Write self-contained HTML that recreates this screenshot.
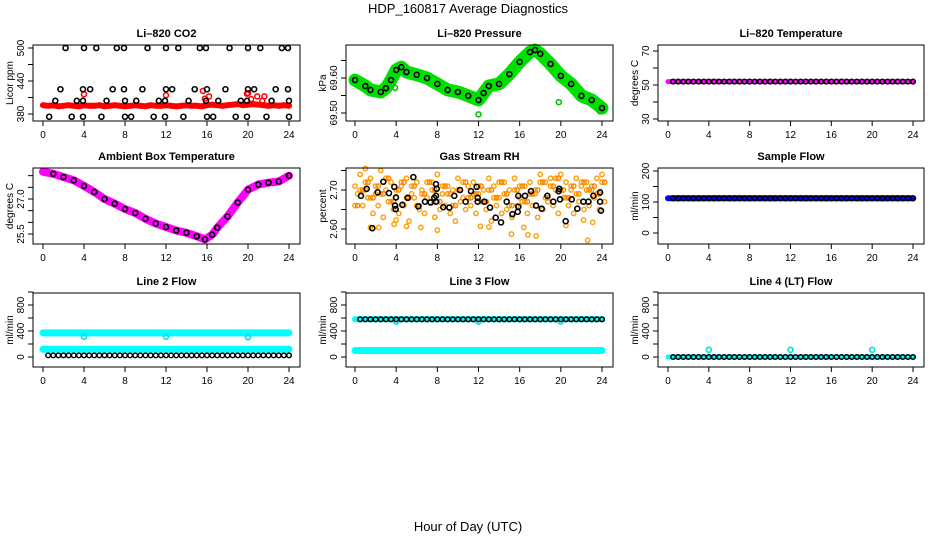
<!DOCTYPE html>
<html><head><meta charset="utf-8"><style>
html,body{margin:0;padding:0;background:#fff;}
svg{display:block;font-family:"Liberation Sans",sans-serif;}
</style></head><body>
<svg id="c" width="936" height="540" viewBox="0 0 936 540">
<text x="468" y="13" font-size="13" text-anchor="middle">HDP_160817  Average Diagnostics</text>
<text x="468" y="531" font-size="13" text-anchor="middle">Hour of Day (UTC)</text>
</svg>
<script>
// ---- data ----
const xTicks = [0,4,8,12,16,20,24];
const H = []; for (let i=0;i<=48;i++) H.push(i*0.5);

const co2Red = [396,395,396,394,395,396,395,394,396,395,395,396,394,395,396,395,394,395,396,395,394,396,395,395,396,395,394,395,396,395,395,394,396,397,396,395,396,397,398,396,397,398,397,396,395,396,395,396,395];
const co2RedOutH = [4.0,12.0,15.6,15.8,16.2,19.9,20.0,20.3,20.9,21.4,21.6];
const co2RedOutV = [416,414,422,408,412,417,418,407,412,404,412];
const co2BlackH = [2.2,4.0,5.2,7.2,7.9,10.2,12.0,13.2,15.3,15.9,18.2,20.0,21.2,23.3,23.9, 1.7,3.9,4.6,6.8,7.9,9.7,12.0,12.6,14.8,16.0,17.8,20.0,20.6,22.7,23.9, 1.2,3.3,3.9,6.2,8.0,9.1,11.3,11.9,14.2,15.9,17.1,19.3,19.9,22.3,24.0, 0.6,2.8,3.9,5.7,8.0,8.6,10.8,11.9,13.7,16.0,16.6,18.8,19.9,21.8,24.0];
const co2BlackV = [500,500,500,500,500,500,500,500,500,500,500,500,500,500,500, 425,425,425,425,425,425,425,425,425,425,425,425,425,425,425, 404,404,404,404,404,404,404,404,404,404,404,404,404,404,404, 375,375,375,375,375,375,375,375,375,375,375,375,375,375,375];

const presHours = [0,1,1.5,2.5,3,3.5,4,4.5,5,6,7,8,9,10,11,12,12.5,13,14,15,16,17,17.5,18,19,20,21,22,23,24];
const presVals = [69.594,69.577,69.566,69.560,69.571,69.594,69.623,69.631,69.617,69.609,69.600,69.583,69.566,69.560,69.549,69.537,69.557,69.577,69.583,69.611,69.646,69.674,69.680,69.669,69.640,69.606,69.583,69.549,69.537,69.514];
const presOutH = [3.9,12.0,19.8,23.8];
const presOutV = [69.572,69.496,69.531,69.505];

const tempVals = [52,52,52,52,52,52,52,52,52,52,52,52,52,52,52,52,52,52,52,52,52,52,52,52,52,52,52,52,52,52,52,52,52,52,52,52,52,52,52,52,52,52,52,52,52,52,52,52,52];

const ambHours = [0,1,2,3,4,5,6,7,8,9,10,11,12,13,14,15,15.8,16.5,17,18,19,20,21,22,23,24];
const ambVals = [28.17,28.08,27.94,27.80,27.56,27.30,27.00,26.80,26.57,26.40,26.15,25.95,25.80,25.65,25.55,25.40,25.27,25.47,25.77,26.25,26.85,27.40,27.62,27.70,27.75,28.00];

const rhBlackH = [0.58,1.14,2.2,2.75,3.3,3.82,3.98,3.89,3.95,4.6,5.12,6.15,6.8,7.35,7.87,7.87,7.94,7.87,8.58,9.17,9.65,10.2,10.75,11.27,11.82,11.92,11.92,12.57,13.12,13.67,14.19,14.74,15.29,15.81,15.87,15.87,16.52,17.1,17.59,18.14,18.69,19.27,19.79,19.85,19.92,20.47,21.06,21.6,22.19,22.68,23.16,23.81,23.81,23.9,1.68,5.67,7.7];
const rhBlackV = [2.685,2.703,2.694,2.721,2.692,2.708,2.681,2.66,2.651,2.662,2.68,2.658,2.67,2.668,2.67,2.715,2.703,2.685,2.656,2.655,2.685,2.70,2.67,2.697,2.708,2.68,2.67,2.67,2.655,2.629,2.617,2.67,2.638,2.644,2.685,2.657,2.685,2.697,2.66,2.652,2.685,2.67,2.697,2.703,2.676,2.62,2.676,2.652,2.67,2.67,2.685,2.694,2.67,2.647,2.602,2.733,2.68];
const rhOrA = [2.66,2.70,2.72,2.68,2.71,2.69,2.73,2.67,2.70,2.72,2.68,2.71,2.66,2.69,2.72,2.70,2.67,2.71,2.69,2.66,2.70,2.72,2.68,2.69,2.71,2.67,2.70,2.68,2.72,2.69,2.66,2.70,2.71,2.67,2.69,2.70,2.72,2.68,2.71,2.73,2.70,2.68,2.71,2.69,2.72,2.70,2.71,2.69,2.72];
const rhOrB = [2.69,2.66,2.68,2.64,2.66,2.63,2.67,2.65,2.64,2.66,2.62,2.68,2.65,2.64,2.67,2.63,2.65,2.66,2.64,2.62,2.67,2.65,2.66,2.64,2.67,2.65,2.62,2.66,2.64,2.65,2.63,2.66,2.67,2.64,2.66,2.63,2.65,2.67,2.66,2.64,2.68,2.66,2.64,2.67,2.65,2.66,2.68,2.65,2.67];
const rhOrC = [2.71,2.74,2.70,2.73,2.69,2.75,2.70,2.72,2.68,2.71,2.73,2.69,2.72,2.70,2.68,2.72,2.74,2.69,2.71,2.70,2.73,2.68,2.71,2.72,2.69,2.70,2.73,2.71,2.68,2.72,2.70,2.73,2.68,2.71,2.72,2.69,2.74,2.72,2.73,2.70,2.74,2.72,2.70,2.73,2.71,2.72,2.70,2.73,2.74];
const rhOrOutH = [1.0,1.5,2.3,3.8,4.0,5.0,6.4,8.0,12.2,13.0,15.2,16.4,16.8,17.6,20.5,22.2,22.6,23.1];
const rhOrOutV = [2.755,2.604,2.604,2.612,2.623,2.607,2.604,2.597,2.607,2.605,2.587,2.604,2.585,2.582,2.609,2.623,2.571,2.617];

const sampVals = [112,112,112,112,112,112,112,112,112,112,112,112,112,112,112,112,112,112,112,112,112,112,112,112,112,112,112,112,112,112,112,112,112,112,112,112,112,112,112,112,112,112,112,112,112,112,112,112,112];

const l2Upper = [370,370,370,370,370,370,370,370,370,370,370,370,370,370,370,370,370,370,370,370,370,370,370,370,370,370,370,370,370,370,370,370,370,370,370,370,370,370,370,370,370,370,370,370,370,370,370,370,370];
const l2Lower = [120,120,120,120,120,120,120,120,120,120,120,120,120,120,120,120,120,120,120,120,120,120,120,120,120,120,120,120,120,120,120,120,120,120,120,120,120,120,120,120,120,120,120,120,120,120,120,120,120];
const l2Black = [25,25,25,25,25,25,25,25,25,25,25,25,25,25,25,25,25,25,25,25,25,25,25,25,25,25,25,25,25,25,25,25,25,25,25,25,25,25,25,25,25,25,25,25,25,25,25,25,25];
const l2DipH = [4,12,20];
const l2DipV = [310,310,305];

const l3Upper = [580,580,580,580,580,580,580,580,580,580,580,580,580,580,580,580,580,580,580,580,580,580,580,580,580,580,580,580,580,580,580,580,580,580,580,580,580,580,580,580,580,580,580,580,580,580,580,580,580];
const l3Lower = [100,100,100,100,100,100,100,100,100,100,100,100,100,100,100,100,100,100,100,100,100,100,100,100,100,100,100,100,100,100,100,100,100,100,100,100,100,100,100,100,100,100,100,100,100,100,100,100,100];
const l3Black = [580,580,580,580,580,580,580,580,580,580,580,580,580,580,580,580,580,580,580,580,580,580,580,580,580,580,580,580,580,580,580,580,580,580,580,580,580,580,580,580,580,580,580,580,580,580,580,580,580];
const l3DipH = [4,12,20];
const l3DipV = [545,545,545];

const l4Cyan = [0,0,0,0,0,0,0,0,0,0,0,0,0,0,0,0,0,0,0,0,0,0,0,0,0,0,0,0,0,0,0,0,0,0,0,0,0,0,0,0,0,0,0,0,0,0,0,0,0];
const l4Black = [0,0,0,0,0,0,0,0,0,0,0,0,0,0,0,0,0,0,0,0,0,0,0,0,0,0,0,0,0,0,0,0,0,0,0,0,0,0,0,0,0,0,0,0,0,0,0,0,0];
const l4SpikeH = [4,12,20];
const l4SpikeV = [110,110,110];

// ---- drawing ----
const svg = document.getElementById('c');
const NS = 'http://www.w3.org/2000/svg';
function mk(tag, attrs, parent){ const e=document.createElementNS(NS,tag); for(const k in attrs) e.setAttribute(k,attrs[k]); (parent||svg).appendChild(e); return e; }

const cols = [{l:33,r:300,x0:43,x24:289},{l:346,r:613,x0:355,x24:602},{l:658,r:924,x0:668,x24:913}];
const rows = [{t:45,b:121},{t:168,b:244},{t:293,b:367}];

function makePanel(name, ci, ri, title, ylab, v1, p1, v2, p2, ticks, labels, fmt){
  const c=cols[ci], r=rows[ri];
  const g = mk('g',{});
  
  
  const P = {g, c, r,
    xs: h => c.x0 + (c.x24-c.x0)*h/24,
    ys: v => p1 + (v-v1)*(p2-p1)/(v2-v1)};
  const t = mk('text',{x:(c.l+c.r)/2, y:r.t-8, 'font-size':11, 'font-weight':'bold','text-anchor':'middle'}, g);
  t.textContent = title;
  
  
  const yl = mk('text',{x:0,y:0,'font-size':10,'text-anchor':'middle',transform:`translate(${c.l-20},${(r.t+r.b)/2}) rotate(-90)`}, g);
  yl.textContent = ylab;
  
  
  // x axis
  const xa = mk('g',{},g);
  
  
  mk('line',{x1:P.xs(0),x2:P.xs(24),y1:r.b,y2:r.b,stroke:'#000'},xa);
  xTicks.forEach(h=>{
    mk('line',{x1:P.xs(h),x2:P.xs(h),y1:r.b,y2:r.b+5,stroke:'#000'},xa);
    const tx = mk('text',{x:P.xs(h),y:r.b+17,'font-size':10,'text-anchor':'middle'},xa);
    tx.textContent = String(h);
  });
  // y axis
  const ya = mk('g',{},g);
  
  
  mk('line',{x1:c.l,x2:c.l,y1:P.ys(ticks[0]),y2:P.ys(ticks[ticks.length-1]),stroke:'#000'},ya);
  ticks.forEach(v=>{
    mk('line',{x1:c.l-5,x2:c.l,y1:P.ys(v),y2:P.ys(v),stroke:'#000'},ya);
  });
  labels.forEach(v=>{
    const tx = mk('text',{x:0,y:0,'font-size':10,'text-anchor':'middle',transform:`translate(${c.l-9},${P.ys(v)}) rotate(-90)`},ya);
    tx.textContent = fmt(v);
  });
  P.data = mk('g',{},g);
  
  
  const box = mk('rect',{x:c.l,y:r.t,width:c.r-c.l,height:r.b-r.t,fill:'none',stroke:'#000'},g);
  
  
  return P;
}
function pts(P, hs, vs, color, rad, sw, name){
  const g = mk('g',{},P.data);
  
  
  hs.forEach((h,i)=>{
    mk('circle',{cx:P.xs(h),cy:P.ys(vs[i]),r:rad,fill:'none',stroke:color,'stroke-width':sw},g);
  });
}
function band(P, hs, vs, color, w, name){
  const d = hs.map((h,i)=>P.xs(h).toFixed(1)+','+P.ys(vs[i]).toFixed(1)).join(' ');
  const pl = mk('polyline',{points:d,fill:'none',stroke:color,'stroke-width':w,'stroke-linejoin':'round','stroke-linecap':'round'},P.data);
  
  
}
const f0 = v=>String(v), f1 = v=>v.toFixed(1), f2 = v=>v.toFixed(2);

// CO2
let P = makePanel('co2',0,0,'Li\u2013820 CO2','Licor ppm',500,48,380,114,[380,410,440,470,500],[380,440,500],f0);
band(P,H,co2Red,'#f00',6,'co2-red-band');
pts(P,H,co2Red,'#f00',2.2,1.5,'co2-red-series');
pts(P,co2RedOutH,co2RedOutV,'#f00',2.5,1.5,'co2-red-outliers');
pts(P,co2BlackH,co2BlackV,'#000',2.5,1.6,'co2-black-series');

// Pressure
P = makePanel('pressure',1,0,'Li\u2013820 Pressure','kPa',69.60,78,69.50,113,[69.50,69.55,69.60,69.65],[69.50,69.60],f2);
band(P,presHours,presVals,'#00e000',13,'pressure-green-band');
pts(P,presOutH,presOutV,'#00c000',2.5,1.5,'pressure-green-outliers');
pts(P,presHours,presVals,'#000',2.5,1.6,'pressure-black-series');

// Temperature
P = makePanel('li820-temp',2,0,'Li\u2013820 Temperature','degrees C',70,51,30,119,[30,40,50,60,70],[30,50,70],f0);
band(P,H,tempVals,'#f0f',5,'temp-magenta-band');
pts(P,H.slice(1),tempVals.slice(1),'#000',2.3,1.5,'temp-black-series');

// Ambient
P = makePanel('ambient',0,1,'Ambient Box Temperature','degrees C',27.0,199,25.5,234,[25.5,26.0,26.5,27.0,27.5,28.0],[25.5,27.0],f1);
band(P,ambHours,ambVals,'#f0f',8,'ambient-magenta-band');
pts(P,ambHours.slice(1),ambVals.slice(1),'#000',2.5,1.6,'ambient-black-series');

// RH
P = makePanel('rh',1,1,'Gas Stream RH','percent',2.70,190,2.60,229,[2.60,2.65,2.70,2.75],[2.60,2.70],f2);
pts(P,H,rhOrA,'#ff9d00',2.2,1.4,'rh-orange-a');
pts(P,H.map(h=>h+0.25),rhOrB,'#ff9d00',2.2,1.4,'rh-orange-b');
pts(P,H,rhOrC,'#ff9d00',2.2,1.4,'rh-orange-c');
pts(P,H.map(h=>h+0.25),rhOrA,'#ff8000',2.2,1.4,'rh-orange-d');
pts(P,rhOrOutH,rhOrOutV,'#ff9d00',2.2,1.4,'rh-orange-outliers');
pts(P,rhBlackH,rhBlackV,'#000',2.5,1.6,'rh-black-series');

// Sample flow
P = makePanel('sample-flow',2,1,'Sample Flow','ml/min',200,171,0,233,[0,50,100,150,200],[0,100,200],f0);
band(P,H,sampVals,'#0000ff',6,'sample-blue-band');
pts(P,H.slice(1),sampVals.slice(1),'#000',2.4,1.6,'sample-black-series');

// Line 2
P = makePanel('line2',0,2,'Line 2 Flow','ml/min',0,357,800,305,[0,200,400,600,800,1000],[0,400,800],f0);
band(P,H,l2Upper,'#00ffff',7,'line2-cyan-upper');
band(P,H,l2Lower,'#00ffff',7,'line2-cyan-lower');
pts(P,l2DipH,l2DipV,'#00e0e0',2.5,1.6,'line2-cyan-dips');
pts(P,H.slice(1),l2Black,'#000',2.3,1.5,'line2-black-series');

// Line 3
P = makePanel('line3',1,2,'Line 3 Flow','ml/min',0,357,800,305,[0,200,400,600,800,1000],[0,400,800],f0);
band(P,H,l3Upper,'#00ffff',6,'line3-cyan-upper');
band(P,H,l3Lower,'#00ffff',7,'line3-cyan-lower');
pts(P,l3DipH,l3DipV,'#00e0e0',2.5,1.6,'line3-cyan-dips');
pts(P,H.slice(1),l3Black,'#000',2.3,1.5,'line3-black-series');

// Line 4
P = makePanel('line4',2,2,'Line 4 (LT) Flow','ml/min',0,357,800,305,[0,200,400,600,800,1000],[0,400,800],f0);
band(P,H,l4Cyan,'#00ffff',5,'line4-cyan-band');
pts(P,l4SpikeH,l4SpikeV,'#00e0e0',2.5,1.6,'line4-cyan-spikes');
pts(P,H.slice(1),l4Black,'#000',2.3,1.5,'line4-black-series');
</script>
</body></html>
